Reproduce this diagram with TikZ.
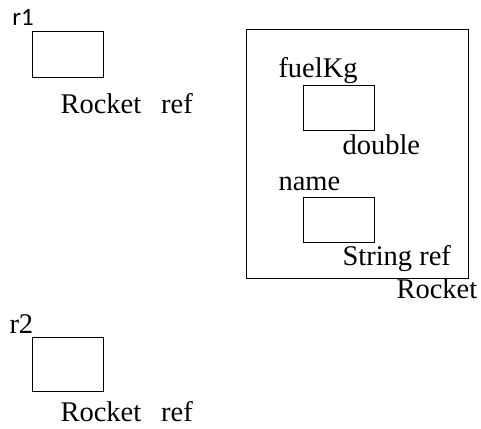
\documentclass[tikz,border=0pt]{standalone}
\usepackage{fontspec}
\setmainfont{Liberation Serif}
\newfontfamily\varfont{Carlito}
\usetikzlibrary{positioning}
\tikzset{every node/.style={font=\fontsize{28.5}{31}\selectfont}}

\begin{document}
\begin{tikzpicture}[x=1pt,y=-1pt,line width=1pt]
      \tikzstyle{slot}=[draw=black,rectangle,inner sep=0pt,minimum width=71pt,minimum height=45pt]
      \tikzstyle{tag}=[anchor=base west,inner sep=0pt]

      \useasboundingbox (0,0) rectangle (481,428);

      % reference variables
      \node[slot]     (r1box)   at (67.5,54.5)  {};
      \node[tag]      (r1)      at (12,26)      {\varfont\fontsize{25}{28}\selectfont r1};
      \node[tag]      (r1type)  at (60,113)     {Rocket\hspace{0.7em}ref};

      \node[slot,minimum height=54pt] (r2box) at (67.5,364) {};
      \node[tag]      (r2)      at (9,333)      {r2};
      \node[tag]      (r2type)  at (60,421)     {Rocket\hspace{0.7em}ref};

      % the object
      \node[draw=black,rectangle,inner sep=0pt,minimum width=222pt,minimum height=248pt]
                      (obj)     at (357,154)    {};
      \node[tag]      (objtype) at (396,298)    {Rocket};

      \node[slot]     (fuelbox) at (338.5,108)  {};
      \node[tag]      (fuel)    at (278,77)     {fuelKg};
      \node[tag]      (fueltype)at (342,154)    {double};

      \node[slot]     (namebox) at (338.5,220)  {};
      \node[tag]      (name)    at (278,190)    {name};
      \node[tag]      (nametype)at (342,265)    {String ref};
\end{tikzpicture}
\end{document}
